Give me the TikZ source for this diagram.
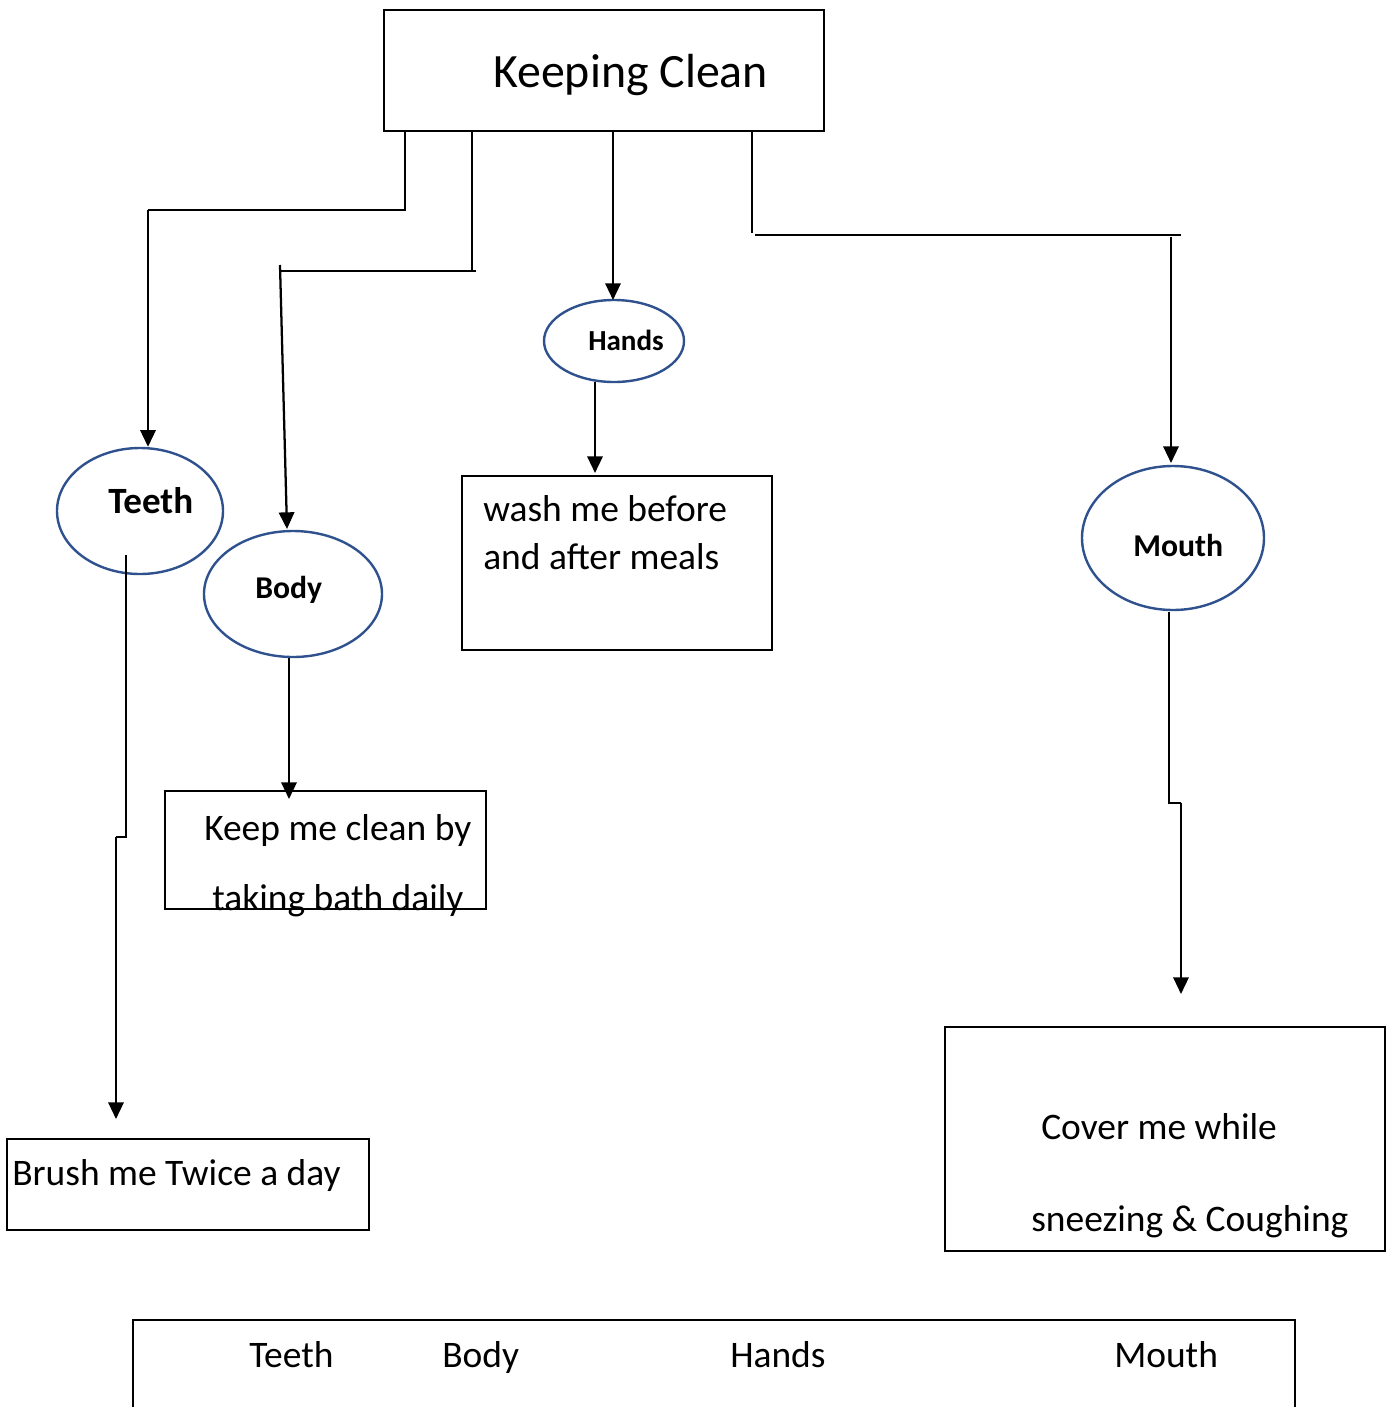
\documentclass[tikz,border=0pt]{standalone}
\usepackage{fontspec}
\setmainfont{Carlito}
\usetikzlibrary{arrows.meta,shapes.geometric}
\definecolor{ellblue}{HTML}{2F528F}
\tikzset{
  box/.style={draw=black,line width=0.9pt,rectangle,inner sep=0pt},
  oval/.style={draw=ellblue,line width=1.8pt,ellipse,inner sep=0pt},
  thin/.style={draw=black,line width=0.85pt},
  arrowline/.style={draw=black,line width=1.7pt,-{Triangle[length=12.5pt,width=11.5pt]}},
  plainline/.style={draw=black,line width=1.7pt},
  txt/.style={inner sep=0pt,anchor=base west,font=\fontsize{28.1}{33}\selectfont},
  btxt/.style={inner sep=0pt,anchor=base west},
}
\begin{document}
\begin{tikzpicture}[x=0.75pt,y=-0.75pt]
\fill[white] (0,0) rectangle (1390,1407);
\clip (0,0) rectangle (1390,1407);
\useasboundingbox (0,0) rectangle (1390,1407);

% boxes
\node[box,minimum width=330pt,minimum height=90.75pt] (title) at (604,70.5) {};
\node[box,minimum width=232.5pt,minimum height=130.5pt] (wash) at (617,563) {};
\node[box,minimum width=240.75pt,minimum height=88.5pt] (keep) at (325.5,850) {};
\node[box,minimum width=271.5pt,minimum height=68.25pt] (brush) at (188,1184.5) {};
\node[box,minimum width=330pt,minimum height=168pt] (cover) at (1165,1139) {};
\node[box,minimum width=871.5pt,minimum height=75pt] (legend) at (714,1370) {};

% ellipses
\node[oval,minimum width=124.5pt,minimum height=94.5pt] (teeth) at (140,511) {};
\node[oval,minimum width=133.5pt,minimum height=94.5pt] (body) at (293,594) {};
\node[oval,minimum width=105pt,minimum height=61.5pt] (hands) at (614,341) {};
\node[oval,minimum width=136.5pt,minimum height=108pt] (mouth) at (1173,538) {};

% texts
\node[btxt,font=\fontsize{35.9}{42}\selectfont] (titleT) at (493,87) {Keeping Clean};
\node[btxt,font=\bfseries\fontsize{27.8}{33}\selectfont] (teethT) at (108,513) {Teeth};
\node[btxt,font=\bfseries\fontsize{23.8}{28}\selectfont] (bodyT) at (255,598) {Body};
\node[btxt,font=\bfseries\fontsize{21.8}{26}\selectfont] (handsT) at (588,350) {Hands};
\node[btxt,font=\bfseries\fontsize{23.8}{28}\selectfont] (mouthT) at (1133,556) {Mouth};
\node[txt] (washA) at (483,521) {wash me before};
\node[txt] (washB) at (483,569) {and after meals};
\node[txt] (keepA) at (204,840) {Keep me clean by};
\node[txt] (keepB) at (212,910) {taking bath daily};
\node[txt] (brushT) at (12,1185) {Brush me Twice a day};
\node[txt] (coverA) at (1041,1139) {Cover me while};
\node[txt] (coverB) at (1031,1231) {sneezing \& Coughing};
\node[txt] (lgA) at (249,1367) {Teeth};
\node[txt] (lgB) at (442,1367) {Body};
\node[txt] (lgC) at (730,1367) {Hands};
\node[txt] (lgD) at (1114,1367) {Mouth};

% connector bend points
\coordinate (t1) at (405,210);
\coordinate (t2) at (148,210);
\coordinate (b1) at (472,272);
\coordinate (b2) at (280,265);
\coordinate (b3) at (287,529);
\coordinate (m1) at (752,233);
\coordinate (m2) at (1171,237);
\coordinate (ht) at (595,382);
\coordinate (hw) at (595,473);
\coordinate (bd) at (289,658);
\coordinate (bk) at (289,799);
\coordinate (tt) at (126,555);
\coordinate (tj1) at (126,837);
\coordinate (tj2) at (116,837);
\coordinate (tb) at (116,1119);
\coordinate (mb) at (1169,612);
\coordinate (mj1) at (1169,803);
\coordinate (mj2) at (1181,803);
\coordinate (mc) at (1181,994);

% from title
\draw[thin] (title.south -| t1) -- (t1) -- (t2);
\draw[arrowline] (t2) -- (t2 |- teeth.north);
\draw[thin] (title.south -| b1) -- (b1);
\draw[thin] (476,271) -- (280,271);
\draw[arrowline] (b2) -- (b3);
\draw[arrowline] (613,131) -- (613,300);
\draw[thin] (title.south -| m1) -- (m1);
\draw[thin] (755,235) -- (1181,235);
\draw[arrowline] (m2) -- (1171,463);

% from ellipses
\draw[arrowline] (ht) -- (hw);
\draw[arrowline] (bd) -- (bk);
\draw[plainline] (tt) -- (tj1) -- (tj2);
\draw[arrowline] (tj2) -- (tb);
\draw[plainline] (mb) -- (mj1) -- (mj2);
\draw[arrowline] (mj2) -- (mc);
\end{tikzpicture}
\end{document}
